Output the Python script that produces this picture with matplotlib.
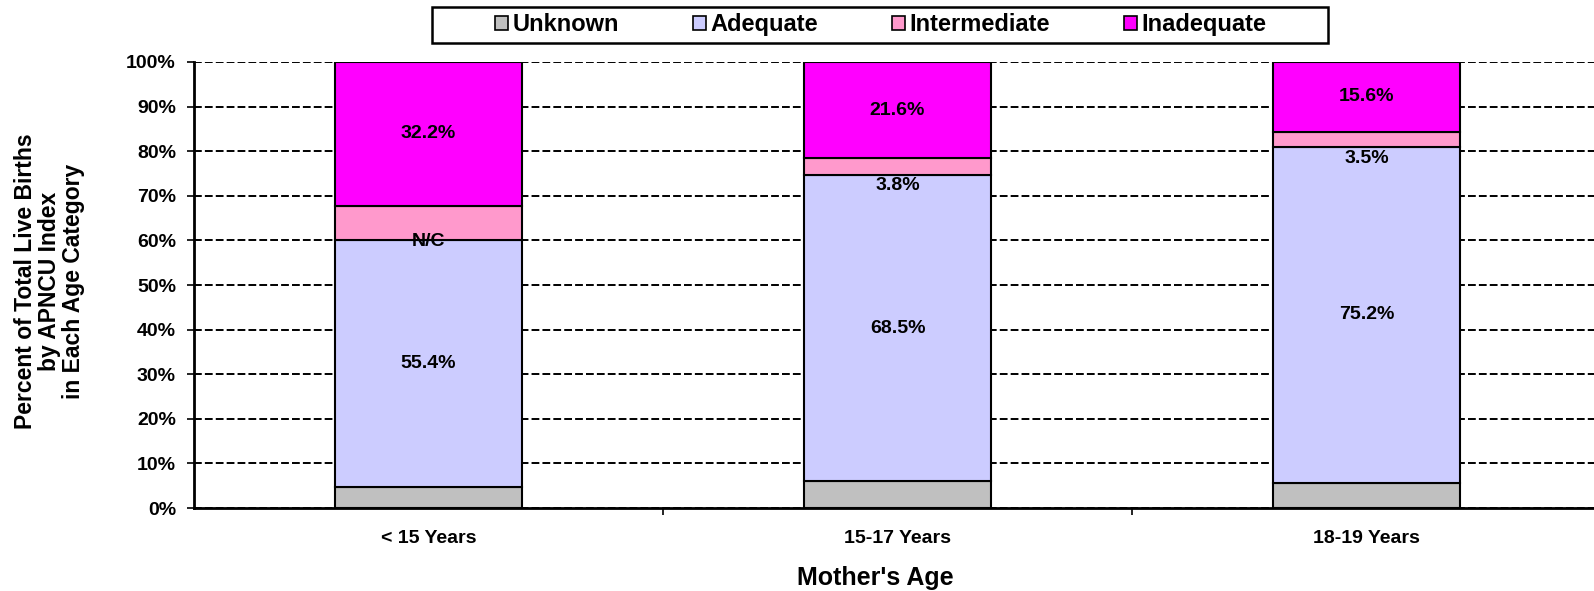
import numpy as np
import matplotlib.pyplot as plt
from matplotlib.patches import Patch, Rectangle

plt.rcParams['font.family'] = ['Liberation Sans', 'DejaVu Sans']
plt.rcParams['font.weight'] = 'bold'

ages = ['< 15 Years', '15-17 Years', '18-19 Years']
series = ['Unknown', 'Adequate', 'Intermediate', 'Inadequate']
unknown = [4.7, 6.1, 5.7]
adequate = [55.4, 68.5, 75.2]
intermediate = [7.7, 3.8, 3.5]
inadequate = [32.2, 21.6, 15.6]
adequate_lbl = ['55.4%', '68.5%', '75.2%']
intermediate_lbl = ['N/C', '3.8%', '3.5%']
inadequate_lbl = ['32.2%', '21.6%', '15.6%']
colors = ['#C0C0C0', '#CCCCFF', '#FF99CC', '#FF00FF']

fig = plt.figure(figsize=(15.94, 5.91), dpi=100)
ax = fig.add_axes([0.1217, 0.1404, 0.8827, 0.7547])

x = np.arange(len(ages))
w = 0.4
bottom = np.zeros(len(ages))
for vals, c in zip([unknown, adequate, intermediate, inadequate], colors):
    ax.bar(x, vals, w, bottom=bottom, color=c, edgecolor='black', linewidth=1.5, zorder=3)
    bottom = bottom + np.array(vals)

# segment labels
b_ad = np.array(unknown)
b_in = b_ad + np.array(adequate)
b_inad = b_in + np.array(intermediate)
for i in range(len(ages)):
    ax.text(x[i], b_ad[i] + adequate[i] / 2, adequate_lbl[i], ha='center', va='center',
            fontsize=14, fontweight='bold', zorder=5)
    ax.text(x[i], b_in[i] + intermediate[i] / 2 - 4.2, intermediate_lbl[i], ha='center', va='center',
            fontsize=14, fontweight='bold', zorder=5)
    ax.text(x[i], b_inad[i] + inadequate[i] / 2, inadequate_lbl[i], ha='center', va='center',
            fontsize=14, fontweight='bold', zorder=5)

ax.set_xlim(-0.5, 2.5)
ax.set_ylim(0, 100)
ax.set_yticks(np.arange(0, 101, 10))
ax.set_yticklabels([f'{v}%' for v in range(0, 101, 10)])
ax.yaxis.grid(True, color='black', linestyle=(0, (4, 1.6)), linewidth=1.4, zorder=0)
ax.set_axisbelow(True)

ax.set_xticks(x)
ax.set_xticklabels(ages)
ax.set_xticks([0.5, 1.5], minor=True)
ax.tick_params(axis='x', which='major', length=0, pad=16, labelsize=14)
ax.tick_params(axis='x', which='minor', length=5, width=1.2, direction='out')
ax.tick_params(axis='y', length=5, width=1.2, pad=8, labelsize=14)
for t in ax.get_xticklabels() + ax.get_yticklabels():
    t.set_fontweight('bold')

for s in ['top', 'right']:
    ax.spines[s].set_visible(False)
for s in ['left', 'bottom']:
    ax.spines[s].set_linewidth(2)
    ax.spines[s].set_zorder(4)

fig.text(0.031, 0.524, 'Percent of Total Live Births\nby APNCU Index\nin Each Age Category',
         rotation=90, ha='center', va='center', multialignment='center',
         fontsize=16.5, fontweight='bold', linespacing=1.05)
fig.text(0.549, 0.022, "Mother's Age", ha='center', va='center', fontsize=18, fontweight='bold')

# legend with a separate box
fig.patches.append(Rectangle((0.271, 0.9272), 0.5621, 0.0609, transform=fig.transFigure,
                             facecolor='white', edgecolor='black', linewidth=1.8, zorder=1))
handles = [Patch(facecolor=c, edgecolor='black', linewidth=1.2) for c in colors]
leg = fig.legend(handles, series, loc='center', bbox_to_anchor=(0.5524, 0.9577), ncol=4,
                 frameon=False, handlelength=0.55, handleheight=0.55, handletextpad=0.17,
                 columnspacing=3.15, borderpad=0.0, prop={'size': 17, 'weight': 'bold'})
leg.set_zorder(2)

fig.savefig('out.png', dpi=100)
